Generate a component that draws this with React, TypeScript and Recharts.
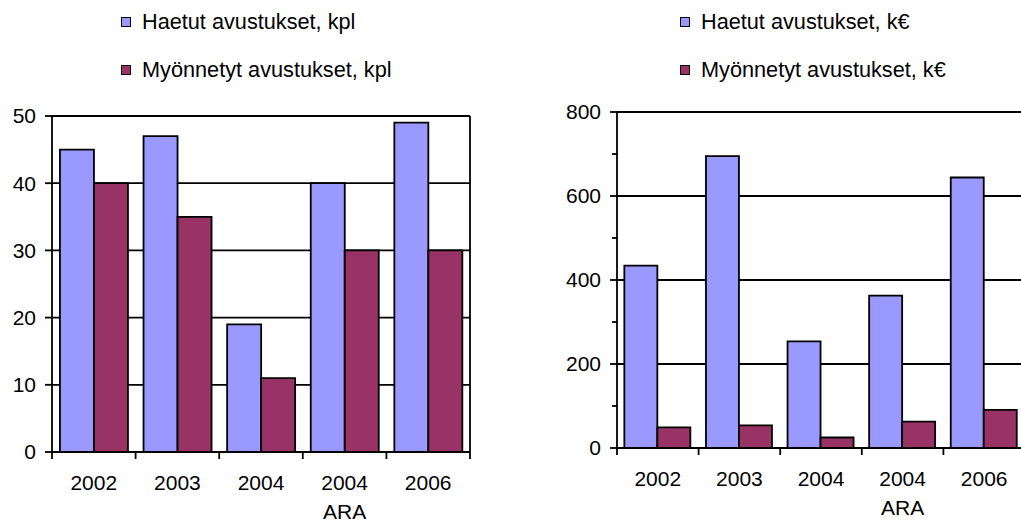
import React from 'react'
import { BarChart, Bar, XAxis, YAxis, CartesianGrid } from 'recharts'

const years = ['2002', '2003', '2004', '2004\nARA', '2006']
const haetutKpl = [45, 47, 19, 40, 49]
const myonnetytKpl = [40, 35, 11, 30, 30]
const haetutKe = [434, 695, 254, 363, 644]
const myonnetytKe = [49, 54, 25, 63, 91]

const kplTicks = [0, 10, 20, 30, 40, 50]
const kplGrid = [10, 20, 30, 40, 50]
const keTicks = [0, 100, 200, 300, 400, 500, 600, 700, 800]
const keGrid = [200, 400, 600, 800]

const kplNames = ['Haetut avustukset, kpl', 'Myönnetyt avustukset, kpl']
const keNames = ['Haetut avustukset, k€', 'Myönnetyt avustukset, k€']
const colors = ['#9999FF', '#993366']

const FONT = '"Liberation Sans", Arial, sans-serif'
const FS = 21
const LINE = 1.8

const kplData = years.map((y, i) => ({ year: y, haetut: haetutKpl[i], myonnetyt: myonnetytKpl[i] }))
const keData = years.map((y, i) => ({ year: y, haetut: haetutKe[i], myonnetyt: myonnetytKe[i] }))

function CatTick(props: any) {
  const { x, y, payload, index, visibleTicksCount, width } = props
  const half = payload.offset || width / visibleTicksCount / 2
  const lines = String(payload.value).split('\n')
  return (
    <g>
      <line x1={x - half} x2={x - half} y1={y} y2={y + 7} stroke="#000" strokeWidth={LINE} />
      {index === visibleTicksCount - 1 && (
        <line x1={x + half} x2={x + half} y1={y} y2={y + 7} stroke="#000" strokeWidth={LINE} />
      )}
      <text x={x} y={y} textAnchor="middle" fill="#000" fontSize={FS} fontFamily={FONT}>
        {lines.map((l, i) => (
          <tspan key={i} x={x} dy={i === 0 ? 38 : 29}>{l}</tspan>
        ))}
      </text>
    </g>
  )
}

function ValTick(props: any) {
  const { x, y, payload, step } = props
  const major = payload.value % step === 0
  return (
    <g>
      <line x1={x - (major ? 7 : 5)} x2={x} y1={y} y2={y} stroke="#000" strokeWidth={LINE} />
      {major && (
        <text x={x - 16} y={y} dy="0.35em" textAnchor="end" fill="#000" fontSize={FS} fontFamily={FONT}>
          {payload.value}
        </text>
      )}
    </g>
  )
}

function LegendBox({ names, left }: { names: string[]; left: number }) {
  return (
    <>
      {names.map((n, i) => (
        <div key={n} style={{ position: 'absolute', left, top: 10 + i * 48, height: 24, display: 'flex', alignItems: 'center', fontSize: 21.7, fontFamily: FONT, color: '#000', whiteSpace: 'nowrap' }}>
          <span style={{ display: 'inline-block', width: 8, height: 8, background: colors[i], border: '1.5px solid #000', marginRight: 11 }} />
          {n}
        </div>
      ))}
    </>
  )
}

export default function App() {
  return (
    <div style={{ position: 'fixed', left: 0, top: 0, width: 1021, height: 522, overflow: 'hidden', background: '#fff' }}>
      <LegendBox names={kplNames} left={121} />
      <LegendBox names={keNames} left={680} />

      <div style={{ position: 'absolute', left: 0, top: 0 }}>
        <BarChart width={500} height={522} data={kplData} margin={{ top: 116, right: 0, bottom: 0, left: 0 }} barCategoryGap="9.5%" barGap={0}>
          <CartesianGrid horizontal vertical={false} horizontalValues={kplGrid} stroke="#000" strokeWidth={LINE} />
          <XAxis dataKey="year" height={70} interval={0} tickLine={false} tickSize={0} tickMargin={0} axisLine={{ stroke: '#000', strokeWidth: LINE }} tick={<CatTick />} />
          <YAxis domain={[0, 50]} ticks={kplTicks} width={52} interval={0} tickLine={false} tickSize={0} tickMargin={0} axisLine={{ stroke: '#000', strokeWidth: LINE }} tick={<ValTick step={10} />} />
          <YAxis yAxisId="border" orientation="right" domain={[0, 50]} width={30} tick={false} tickLine={false} axisLine={{ stroke: '#000', strokeWidth: LINE }} />
          <Bar dataKey="haetut" name={kplNames[0]} fill={colors[0]} stroke="#000" strokeWidth={LINE} isAnimationActive={false} />
          <Bar dataKey="myonnetyt" name={kplNames[1]} fill={colors[1]} stroke="#000" strokeWidth={LINE} isAnimationActive={false} />
        </BarChart>
      </div>

      <div style={{ position: 'absolute', left: 520, top: 0 }}>
        <BarChart width={520} height={522} data={keData} margin={{ top: 112, right: 15, bottom: 0, left: 40 }} barCategoryGap="9%" barGap={0}>
          <CartesianGrid horizontal vertical={false} horizontalValues={keGrid} stroke="#000" strokeWidth={LINE} />
          <XAxis dataKey="year" height={74} interval={0} tickLine={false} tickSize={0} tickMargin={0} axisLine={{ stroke: '#000', strokeWidth: LINE }} tick={<CatTick />} />
          <YAxis domain={[0, 800]} ticks={keTicks} width={57} interval={0} tickLine={false} tickSize={0} tickMargin={0} axisLine={{ stroke: '#000', strokeWidth: LINE }} tick={<ValTick step={200} />} />
          <Bar dataKey="haetut" name={keNames[0]} fill={colors[0]} stroke="#000" strokeWidth={LINE} isAnimationActive={false} />
          <Bar dataKey="myonnetyt" name={keNames[1]} fill={colors[1]} stroke="#000" strokeWidth={LINE} isAnimationActive={false} />
        </BarChart>
      </div>
    </div>
  )
}
